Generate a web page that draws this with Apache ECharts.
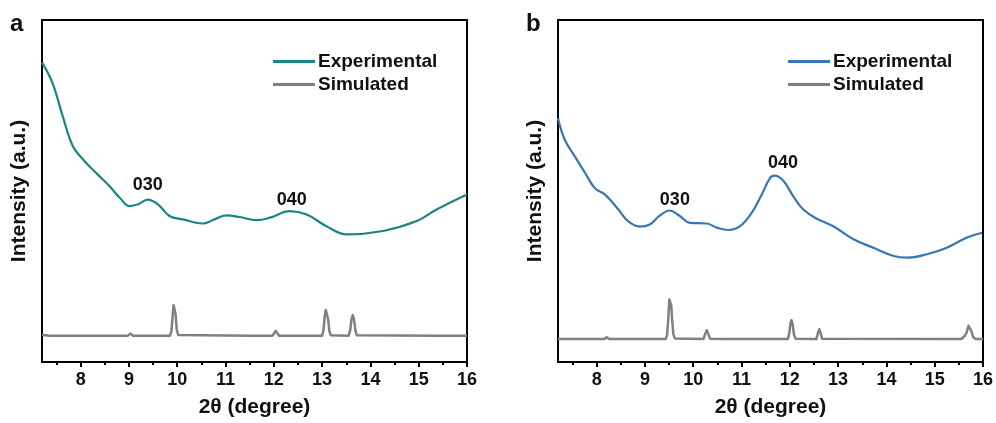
<!DOCTYPE html>
<html>
<head>
<meta charset="utf-8">
<script src="https://cdn.jsdelivr.net/npm/echarts@6/dist/echarts.min.js"></script>
<style>
  html, body { margin: 0; padding: 0; background: #fff; }
  #wrap { position: relative; width: 996px; height: 423px; }
  .panel { position: absolute; top: 0; width: 498px; height: 423px; }
  #pa { left: 0; }
  #pb { left: 498px; }
</style>
</head>
<body>
<div id="wrap">
  <div id="pa" class="panel"></div>
  <div id="pb" class="panel"></div>
</div>
<script>
// Axis range and tick positions (2θ, degree)
const xMin = 7.2;
const xMax = 16;
const majorTicks = [8, 9, 10, 11, 12, 13, 14, 15, 16];
const minorTicks = [7.5, 8.5, 9.5, 10.5, 11.5, 12.5, 13.5, 14.5, 15.5];

// Panel a: measured pattern [2θ, intensity]
const expA = [
  [7.20, 87.6], [7.42, 81.5], [7.63, 71.8], [7.84, 63.1], [8.05, 59.2],
  [8.32, 55.3], [8.60, 51.4], [8.81, 48.0], [9.01, 45.6], [9.19, 46.1],
  [9.39, 47.5], [9.60, 46.1], [9.84, 42.7], [10.12, 41.7], [10.53, 40.5],
  [10.74, 41.5], [11.02, 42.9], [11.29, 42.4], [11.64, 41.5], [11.92, 42.2],
  [12.33, 44.1], [12.68, 43.1], [13.09, 39.7], [13.51, 37.3], [14.26, 38.3],
  [14.96, 41.2], [15.37, 44.6], [16.00, 49.0]
];

// Panel a: simulated pattern
const simA = [
  [7.20, 7.9], [7.28, 7.8], [7.35, 7.7], [8.98, 7.7], [9.03, 8.3], [9.08, 7.7],
  [9.85, 7.7], [9.88, 9.0], [9.905, 13.5], [9.925, 16.6], [9.945, 16.9], [9.965, 14.0],
  [9.99, 9.5], [10.02, 7.9], [10.06, 7.7],
  [11.55, 7.7], [11.58, 8.0], [11.61, 7.7],
  [11.97, 7.7], [12.01, 8.5], [12.04, 9.1], [12.07, 8.5], [12.11, 7.7],
  [12.42, 7.7], [12.45, 8.1], [12.48, 7.7],
  [13.00, 7.7], [13.03, 9.5], [13.055, 13.5], [13.075, 15.2], [13.10, 15.0], [13.125, 12.5],
  [13.15, 9.0], [13.18, 7.8], [13.21, 7.7],
  [13.55, 7.7], [13.58, 9.2], [13.61, 12.6], [13.635, 13.7], [13.66, 12.5], [13.69, 9.2],
  [13.72, 7.8], [13.75, 7.7],
  [15.40, 7.7], [15.44, 8.1], [15.48, 7.7], [15.52, 8.1], [15.56, 7.7], [16.00, 7.7]
];

// Panel b: measured pattern
const expB = [
  [7.20, 71.3], [7.34, 65.0], [7.55, 60.1], [7.76, 55.3], [7.96, 50.9],
  [8.17, 49.0], [8.45, 44.6], [8.65, 41.2], [8.89, 39.6], [9.10, 40.2],
  [9.30, 42.7], [9.51, 44.3], [9.72, 42.7], [9.93, 40.7], [10.28, 40.5],
  [10.49, 39.3], [10.73, 38.6], [10.97, 39.7], [11.21, 43.6], [11.42, 49.0],
  [11.59, 53.8], [11.69, 54.5], [11.87, 52.9], [12.07, 48.5], [12.28, 44.6],
  [12.56, 41.9], [12.90, 39.7], [13.32, 35.9], [13.73, 33.4], [14.15, 31.0],
  [14.42, 30.5], [14.84, 31.5], [15.25, 33.4], [15.67, 36.4], [15.98, 37.8]
];

// Panel b: simulated pattern
const simB = [
  [7.20, 6.7], [8.16, 6.7], [8.21, 7.2], [8.26, 6.7],
  [9.43, 6.7], [9.46, 8.0], [9.485, 13.0], [9.505, 18.3], [9.525, 18.6], [9.545, 16.5],
  [9.565, 12.0], [9.59, 8.0], [9.62, 6.9], [9.66, 6.7],
  [10.21, 6.7], [10.25, 8.3], [10.28, 9.3], [10.31, 8.3], [10.35, 6.8],
  [10.70, 6.7], [10.74, 7.1], [10.78, 6.7],
  [11.96, 6.7], [11.99, 8.5], [12.015, 11.5], [12.035, 12.2], [12.06, 11.0], [12.085, 8.0],
  [12.12, 6.8],
  [12.55, 6.7], [12.585, 8.6], [12.61, 9.6], [12.635, 8.6], [12.67, 6.8],
  [15.55, 6.7], [15.62, 7.6], [15.66, 8.6], [15.70, 10.6], [15.73, 10.8], [15.76, 9.0],
  [15.80, 7.2], [15.85, 6.7], [16.00, 6.7]
];

// Reflection indices [2θ, intensity, label]
const peaksA = [[9.39, 51.6, '030'], [12.37, 47.5, '040']];
const peaksB = [[9.62, 47.5, '030'], [11.86, 58.3, '040']];

const FONT = "'Liberation Sans', Arial, sans-serif";
const INK = '#111';

function buildOption(opts) {
  const axisCommon = {
    type: 'value', min: xMin, max: xMax, gridIndex: 0
  };
  return {
    animation: false,
    backgroundColor: '#fff',
    graphic: [{
      type: 'text', left: opts.letterLeft, top: 12,
      style: { text: opts.letter, font: 'bold 24px ' + FONT, fill: INK }
    }],
    legend: {
      orient: 'vertical',
      left: opts.legendLeft, top: 47,
      icon: 'rect', itemWidth: 42, itemHeight: 3, itemGap: 4,
      data: ['Experimental', 'Simulated'],
      textStyle: { fontFamily: FONT, fontWeight: 'bold', fontSize: 19, color: INK, padding: [0, 0, 0, -2] }
    },
    grid: {
      left: opts.gridLeft, right: opts.gridRight, top: 20, bottom: 60,
      show: true, borderColor: '#000', borderWidth: 2, backgroundColor: 'transparent'
    },
    xAxis: [
      Object.assign({}, axisCommon, {
        position: 'bottom',
        name: '2θ (degree)', nameLocation: 'middle', nameGap: 35,
        nameTextStyle: { fontFamily: FONT, fontWeight: 'bold', fontSize: 21, color: INK },
        axisLine: { show: true, lineStyle: { color: '#000', width: 2 } },
        axisTick: { show: true, length: 5, lineStyle: { color: '#000', width: 2 }, customValues: majorTicks },
        axisLabel: { show: true, margin: 9, fontFamily: FONT, fontWeight: 'bold', fontSize: 18, color: INK, customValues: majorTicks },
        splitLine: { show: false }
      }),
      Object.assign({}, axisCommon, {
        position: 'bottom',
        axisLine: { show: false },
        axisTick: { show: true, length: 3, lineStyle: { color: '#000', width: 2 }, customValues: minorTicks },
        axisLabel: { show: false },
        splitLine: { show: false }
      })
    ],
    yAxis: {
      type: 'value', min: 0, max: 100,
      name: 'Intensity (a.u.)', nameLocation: 'middle', nameGap: 12,
      nameTextStyle: { fontFamily: FONT, fontWeight: 'bold', fontSize: 21, color: INK },
      axisLine: { show: false }, axisTick: { show: false }, axisLabel: { show: false },
      splitLine: { show: false }
    },
    series: [
      {
        name: 'Experimental', type: 'line', data: opts.exp, smooth: 0.4,
        symbol: 'none', color: opts.color,
        lineStyle: { color: opts.color, width: 2.2 }, z: 3
      },
      {
        name: 'Simulated', type: 'line', data: opts.sim, smooth: false,
        symbol: 'none', color: '#808080',
        lineStyle: { color: '#808080', width: 2.5, join: 'round' }, z: 2
      },
      {
        name: 'indices', type: 'scatter', data: opts.peaks, symbolSize: 0,
        encode: { x: 0, y: 1 },
        itemStyle: { opacity: 1 },
        label: {
          show: true, position: 'inside', opacity: 1,
          formatter: p => p.value[2],
          fontFamily: FONT, fontWeight: 'bold', fontSize: 18, color: INK,
          textBorderWidth: 0, textBorderColor: 'transparent'
        },
        silent: true, z: 4
      }
    ]
  };
}

const chartA = echarts.init(document.getElementById('pa'), null, { renderer: 'canvas' });
chartA.setOption(buildOption({
  letter: 'a', letterLeft: 10, gridLeft: 42, gridRight: 31,
  legendLeft: 268, color: '#1a8585', exp: expA, sim: simA, peaks: peaksA
}));

const chartB = echarts.init(document.getElementById('pb'), null, { renderer: 'canvas' });
chartB.setOption(buildOption({
  letter: 'b', letterLeft: 28, gridLeft: 60, gridRight: 13,
  legendLeft: 285, color: '#3677b5', exp: expB, sim: simB, peaks: peaksB
}));
</script>
</body>
</html>
